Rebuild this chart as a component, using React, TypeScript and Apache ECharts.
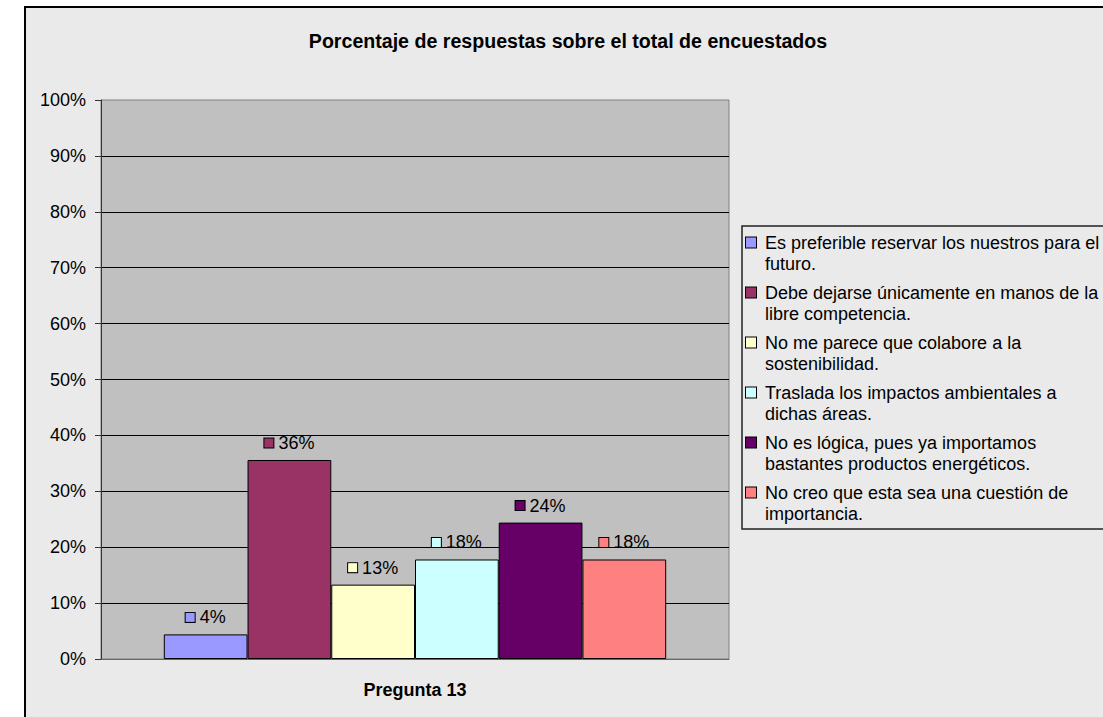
import React, { useEffect, useRef } from "react";
import * as echarts from "echarts";

const title = "Porcentaje de respuestas sobre el total de encuestados";
const categories = ["Pregunta 13"];
const seriesNames = [
  "Es preferible reservar los nuestros para el futuro.",
  "Debe dejarse únicamente en manos de la libre competencia.",
  "No me parece que colabore a la sostenibilidad.",
  "Traslada los impactos ambientales a dichas áreas.",
  "No es lógica, pues ya importamos bastantes productos energéticos.",
  "No creo que esta sea una cuestión de importancia.",
];
const legendLines = [
  ["Es preferible reservar los nuestros para el", "futuro."],
  ["Debe dejarse únicamente en manos de la", "libre competencia."],
  ["No me parece que colabore a la", "sostenibilidad."],
  ["Traslada los impactos ambientales a", "dichas áreas."],
  ["No es lógica, pues ya importamos", "bastantes productos energéticos."],
  ["No creo que esta sea una cuestión de", "importancia."],
];
const values = [4.4, 35.6, 13.3, 17.8, 24.4, 17.8];
const colors = ["#9999FF", "#993366", "#FFFFCC", "#CCFFFF", "#660066", "#FF8080"];

const FONT = '"Liberation Sans", Arial, sans-serif';

export default function App() {
  const ref = useRef<HTMLDivElement>(null);
  useEffect(() => {
    if (!ref.current) return;
    const chart = echarts.init(ref.current, undefined, { renderer: "svg" });
    const legendRich: any = {
      g: { width: 9, height: 21, lineHeight: 21, verticalAlign: "middle" },
      i: { width: 19, height: 21, lineHeight: 21, verticalAlign: "middle" },
      t: { fontSize: 18, lineHeight: 21, color: "#000", fontFamily: FONT, verticalAlign: "middle" },
    };
    colors.forEach((c, k) => {
      legendRich["s" + k] = {
        width: 10,
        height: 10,
        backgroundColor: c,
        borderColor: "#000",
        borderWidth: 1,
        verticalAlign: "middle",
      };
    });
    const option: any = {
      animation: false,
      backgroundColor: "#ffffff",
      textStyle: { fontFamily: FONT },
      graphic: [
        {
          type: "rect",
          z: -100,
          zlevel: 0,
          shape: { x: 25, y: 7, width: 1200, height: 800 },
          style: { fill: "#EAEAEA", stroke: "#000", lineWidth: 2 },
          silent: true,
        },
        {
          type: "rect",
          z: -99,
          shape: { x: 742, y: 226, width: 400, height: 303 },
          style: { fill: "#EAEAEA", stroke: "#222", lineWidth: 1.5 },
          silent: true,
        },
      ],
      title: {
        text: title,
        left: 568,
        top: 31,
        padding: 0,
        textAlign: "center",
        textStyle: { fontSize: 19.6, fontWeight: "bold", color: "#000", fontFamily: FONT },
      },
      legend: {
        orient: "vertical",
        left: 741,
        top: 232,
        padding: 0,
        itemGap: 8,
        icon: "none",
        itemWidth: 0,
        itemHeight: 10,
        selectedMode: false,
        data: seriesNames,
        formatter: (name: string) => {
          const k = seriesNames.indexOf(name);
          const [a, b] = legendLines[k];
          return `{s${k}|}{g|}{t|${a}}\n{i|}{t|${b}}`;
        },
        textStyle: { fontSize: 18, color: "#000", fontFamily: FONT, lineHeight: 21, rich: legendRich },
      },
      grid: {
        left: 101,
        top: 100,
        width: 628,
        height: 559,
        show: true,
        backgroundColor: "#C0C0C0",
        borderColor: "#808080",
        borderWidth: 1,
      },
      xAxis: {
        type: "category",
        data: categories,
        axisLine: { show: true, lineStyle: { color: "#666", width: 1 } },
        axisTick: { show: false },
        axisLabel: {
          margin: 22,
          fontSize: 18,
          fontWeight: "bold",
          color: "#000",
          fontFamily: FONT,
        },
      },
      yAxis: {
        type: "value",
        min: 0,
        max: 100,
        interval: 10,
        axisLine: { show: true, lineStyle: { color: "#333", width: 1 } },
        axisTick: { show: true, length: 6, lineStyle: { color: "#333" } },
        axisLabel: {
          formatter: "{value}%",
          fontSize: 18,
          color: "#000",
          margin: 15,
          fontFamily: FONT,
        },
        splitLine: {
          show: true,
          showMaxLine: false,
          lineStyle: { color: "#000", width: 1 },
        },
      },
      series: seriesNames.map((name, k) => ({
        name,
        type: "bar",
        data: [values[k]],
        barGap: "0%",
        barCategoryGap: "20%",
        itemStyle: { color: colors[k], borderColor: "#000", borderWidth: 1 },
        label: {
          show: true,
          position: "top",
          distance: 8,
          formatter: (p: any) => `{sq|}{t|${Math.round(p.value)}%}`,
          rich: {
            sq: {
              width: 9,
              height: 9,
              backgroundColor: colors[k],
              borderColor: "#000",
              borderWidth: 1,
              verticalAlign: "middle",
            },
            t: {
              fontSize: 18,
              color: "#000",
              fontFamily: FONT,
              padding: [0, 0, 0, 5],
              verticalAlign: "middle",
            },
          },
        },
      })),
    };
    chart.setOption(option);
    return () => chart.dispose();
  }, []);
  return (
    <div
      ref={ref}
      style={{ position: "fixed", left: 0, top: 0, width: 1103, height: 717 }}
    />
  );
}
